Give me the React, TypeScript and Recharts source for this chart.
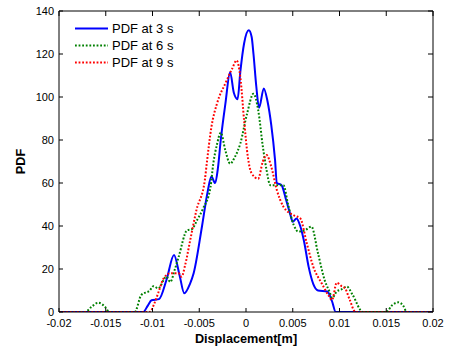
import { LineChart, Line, XAxis, YAxis, Legend } from 'recharts';

// displacement [m] / probability density pairs
const t3X = [-0.02, -0.011, -0.0105, -0.0101, -0.0093, -0.0085, -0.0077, -0.0071, -0.0066, -0.006, -0.0056, -0.0047, -0.0041, -0.0037, -0.0033, -0.003, -0.0027, -0.0022, -0.0017, -0.0013, -0.0009, -0.0006, -0.0002, 0.0003, 0.0006, 0.0008, 0.0011, 0.0014, 0.0019, 0.0023, 0.0027, 0.0031, 0.0033, 0.0038, 0.0043, 0.0047, 0.005, 0.0054, 0.0058, 0.0062, 0.0067, 0.0072, 0.0077, 0.0087, 0.0092, 0.0096, 0.02];
const t3Y = [0, 0, 3, 5.5, 6, 15, 26.5, 17, 8.7, 13, 18, 40, 56, 63, 60, 67, 80, 97, 111.5, 102, 99, 112, 125, 131, 128, 120, 105, 95, 104, 98, 87, 71, 60, 59, 52, 46, 42, 43.5, 40, 33, 21, 13, 10, 9.5, 5, 0, 0];

const t6X = [-0.02, -0.0172, -0.0165, -0.0158, -0.0151, -0.0146, -0.0119, -0.0112, -0.0103, -0.0099, -0.0094, -0.0085, -0.0081, -0.0076, -0.0072, -0.0063, -0.0058, -0.0052, -0.0046, -0.0038, -0.0035, -0.0031, -0.0027, -0.0022, -0.0017, -0.0012, -0.0006, 0.0001, 0.0008, 0.0013, 0.0018, 0.0022, 0.0026, 0.004, 0.0045, 0.0051, 0.0056, 0.0063, 0.007, 0.0077, 0.0084, 0.009, 0.0092, 0.0097, 0.0102, 0.0108, 0.0114, 0.0125, 0.015, 0.0156, 0.0163, 0.0168, 0.0172, 0.02];
const t6Y = [0, 0, 2.5, 4.3, 2.5, 0, 0, 7.9, 10, 12, 11, 16.4, 14, 20, 25.7, 38, 38.5, 43, 48, 58, 69, 78, 83.4, 75, 69, 72, 78.5, 92, 101.5, 94, 77, 66, 59, 59, 50, 40.5, 37.4, 38, 39.7, 27.3, 15, 8.7, 6.5, 9.5, 10.5, 11.8, 8, 0, 0, 3, 4.5, 3, 0, 0];

const t9X = [-0.02, -0.0103, -0.0098, -0.0094, -0.0088, -0.0081, -0.0072, -0.0069, -0.0065, -0.006, -0.0053, -0.0044, -0.0042, -0.0037, -0.0031, -0.0022, -0.0015, -0.001, -0.0006, -0.0002, 0.0002, 0.0006, 0.0013, 0.0018, 0.0022, 0.0027, 0.0033, 0.004, 0.0051, 0.0058, 0.0065, 0.0072, 0.0081, 0.0088, 0.0092, 0.0097, 0.0102, 0.0106, 0.0111, 0.0117, 0.02];
const t9Y = [0, 0, 4, 8.7, 15.7, 18, 18, 16.4, 22, 32.7, 47.4, 61.4, 69, 86, 97, 106.4, 113, 117, 109, 89, 72, 64.5, 62, 70, 73, 67.6, 56.7, 49, 45, 43.6, 32, 21, 13.3, 7.9, 5.6, 13.6, 12.1, 11, 5.6, 0, 0];

const xTicks = [-0.02, -0.015, -0.01, -0.005, 0, 0.005, 0.01, 0.015, 0.02];
const yTicks = [0, 20, 40, 60, 80, 100, 120, 140];

const series = [
  { name: 'PDF at 3 s', xs: t3X, ys: t3Y, color: '#0000ff', dash: undefined },
  { name: 'PDF at 6 s', xs: t6X, ys: t6Y, color: '#008000', dash: '1.8 1.8' },
  { name: 'PDF at 9 s', xs: t9X, ys: t9Y, color: '#ff0000', dash: '1.8 1.8' },
];

const font = 'Arial, "Liberation Sans", sans-serif';
const tickStyle = { fontSize: 11, fill: '#000', fontFamily: font };
const noLabel = () => <g />;

function MatlabLegend() {
  return (
    <div style={{ fontFamily: font, fontSize: 13, color: '#000' }}>
      {series.map((s) => (
        <div key={s.name} style={{ display: 'flex', alignItems: 'center', height: 17 }}>
          <svg width={37} height={17}>
            <line x1={0} x2={33} y1={8.5} y2={8.5} stroke={s.color} strokeWidth={2} strokeDasharray={s.dash} />
          </svg>
          <span>{s.name}</span>
        </div>
      ))}
    </div>
  );
}

export default function App() {
  return (
    <div style={{ position: 'absolute', left: 0, top: 0, background: '#fff' }}>
      <LineChart width={450} height={349} margin={{ top: 10, right: 16, left: 0, bottom: 0 }}>
        <XAxis
          type="number"
          dataKey="x"
          domain={[-0.02, 0.02]}
          ticks={xTicks}
          allowDataOverflow
          height={37}
          tickSize={-4}
          tickMargin={11}
          tick={tickStyle}
          tickFormatter={(v) => String(v)}
          stroke="#000"
          label={{ value: 'Displacement[m]', position: 'center', dy: 8, style: { fontSize: 12.7, fontWeight: 'bold', fill: '#000', fontFamily: font } }}
        />
        <XAxis
          xAxisId="top"
          orientation="top"
          type="number"
          dataKey="x"
          domain={[-0.02, 0.02]}
          ticks={xTicks}
          allowDataOverflow
          height={1}
          tickSize={-5}
          tick={noLabel}
          stroke="#000"
        />
        <YAxis
          type="number"
          domain={[0, 140]}
          ticks={yTicks}
          allowDataOverflow
          width={59}
          tickSize={-4}
          tickMargin={9}
          tick={tickStyle}
          stroke="#000"
          label={{ value: 'PDF', angle: -90, position: 'center', dx: -9, style: { fontSize: 12.7, fontWeight: 'bold', fill: '#000', fontFamily: font, textAnchor: 'middle' } }}
        />
        <YAxis
          yAxisId="right"
          orientation="right"
          type="number"
          domain={[0, 140]}
          ticks={yTicks}
          allowDataOverflow
          width={1}
          tickSize={-5}
          tick={noLabel}
          stroke="#000"
        />
        <Legend
          layout="vertical"
          align="center"
          verticalAlign="middle"
          content={() => <MatlabLegend />}
          wrapperStyle={{ position: 'absolute', left: 75, top: 20, width: 130, height: 52 }}
        />
        {series.map((s) => (
          <Line
            key={s.name}
            name={s.name}
            data={s.xs.map((x, i) => ({ x, y: s.ys[i] }))}
            dataKey="y"
            type="monotone"
            stroke={s.color}
            strokeWidth={2}
            strokeDasharray={s.dash}
            dot={false}
            activeDot={false}
            isAnimationActive={false}
          />
        ))}
      </LineChart>
    </div>
  );
}
